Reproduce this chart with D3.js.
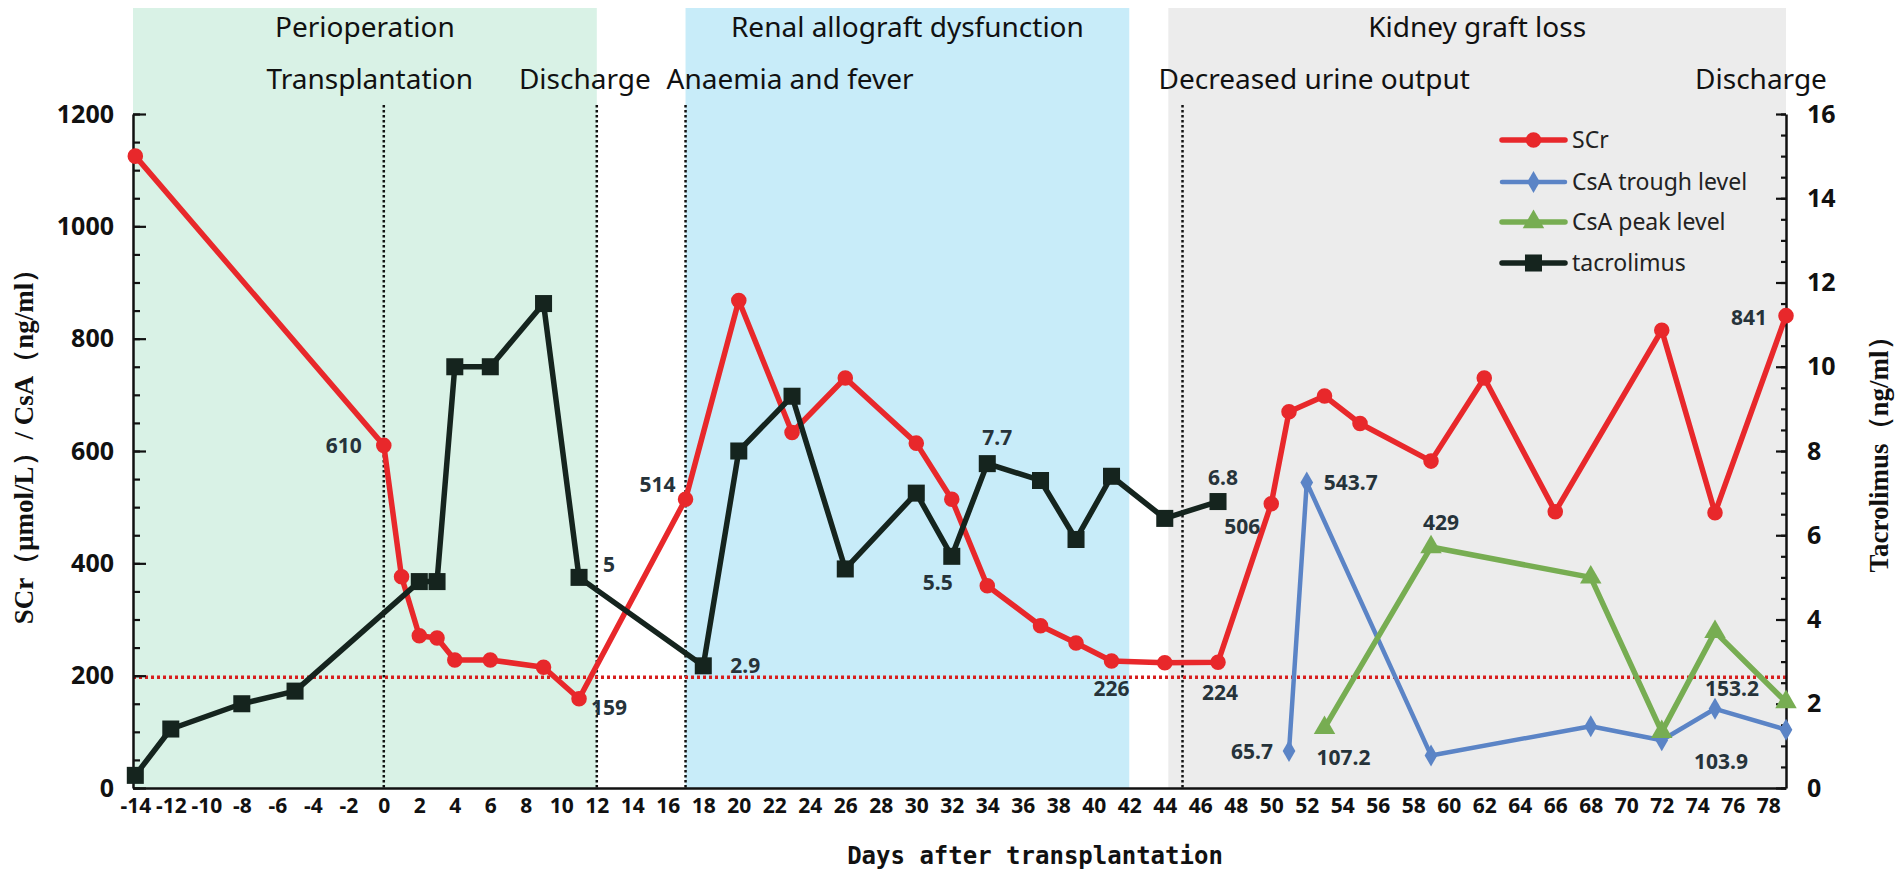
<!DOCTYPE html>
<html><head><meta charset="utf-8">
<script src="https://cdn.jsdelivr.net/npm/d3@7"></script>
<style>body{margin:0;background:#fff;} svg{display:block;}</style>
</head><body>
<svg id="chart" width="1902" height="880"></svg>
<script>
// ---------------- data ----------------
const scrDays   = [-14, 0, 1, 2, 3, 4, 6, 9, 11, 17, 20, 23, 26, 30, 32, 34, 37, 39, 41, 44, 47, 50, 51, 53, 55, 59, 62, 66, 72, 75, 79];
const scrValues = [1125, 610, 376, 271, 267, 228, 228, 215, 159, 514, 868, 633, 730, 614, 514, 360, 289, 258, 226, 223, 224, 506, 670, 698, 649, 582, 730, 492, 815, 490, 841];

const tacDays   = [-14, -12, -8, -5, 2, 3, 4, 6, 9, 11, 18, 20, 23, 26, 30, 32, 34, 37, 39, 41, 44, 47];
const tacValues = [0.3, 1.4, 2.0, 2.3, 4.9, 4.9, 10.0, 10.0, 11.5, 5.0, 2.9, 8.0, 9.3, 5.2, 7.0, 5.5, 7.7, 7.3, 5.9, 7.4, 6.4, 6.8];

const troughDays   = [51, 52, 59, 68, 72, 75, 79];
const troughValues = [65.7, 543.7, 58, 110, 85, 141, 103.9];

const peakDays   = [53, 59, 68, 72, 75, 79];
const peakValues = [107.2, 429, 375, 100, 278, 153.2];

const xTickValues     = d3.range(-14, 79, 2);
const leftTickValues  = [0, 200, 400, 600, 800, 1000, 1200];
const rightTickValues = [0, 2, 4, 6, 8, 10, 12, 14, 16];

const phaseNames  = ["Perioperation", "Renal allograft dysfunction", "Kidney graft loss"];
const phaseStarts = [-14.13, 17, 44.2];
const phaseEnds   = [12, 42, 79];

const eventNames = ["Transplantation", "Discharge", "Anaemia and fever", "Decreased urine output", "Discharge"];
const eventDays  = [0, 12, 17, 45, 79];
const dottedDays = [0, 12, 17, 45];

const scrUpperLimit = 197;

const seriesNames = ["SCr", "CsA trough level", "CsA peak level", "tacrolimus"];

// data labels: series index, point day, text
const labelSeries = ["scr","tac","scr","scr","tac","tac","tac","scr","tac","scr","scr","trough","peak","scr","peak","trough","trough","peak"];
const labelDays   = [0, 11, 11, 17, 18, 32, 34, 41, 47, 47, 50, 52, 59, 79, 79, 79, 51, 53];
const labelTexts  = ["610","5","159","514","2.9","5.5","7.7","226","6.8","224","506","543.7","429","841","153.2","103.9","65.7","107.2"];

// ---------------- layout / style ----------------
const W = 1902, H = 880;
const x  = d3.scaleLinear().domain([-14.13, 79]).range([133, 1786]);
const yL = d3.scaleLinear().domain([0, 1200]).range([788, 114]);
const yR = d3.scaleLinear().domain([0, 16]).range([788, 114]);

const bandColors = ["#d9f2e6", "#c8ecf9", "#ececec"];
const colors = {scr:"#e8282b", trough:"#5b84c6", peak:"#77ad52", tac:"#15241e"};

const labelStyle = [ // dx, dy, anchor
  [-22,0,"end"],[24,-13,"start"],[12,9,"start"],[-10,-15,"end"],[27,0,"start"],
  [-14,26,"middle"],[10,-26,"middle"],[0,27,"middle"],[5,-24,"middle"],[2,30,"middle"],
  [-11,23,"end"],[17,0,"start"],[10,-25,"middle"],[-19,2,"end"],[-27,-14,"end"],
  [-65,32,"middle"],[-16,0,"end"],[19,30,"middle"]
];
const eventStyle = [[-14,"middle"],[-12,"middle"],[-19,"start"],[-24,"start"],[-25,"middle"]];

const svg = d3.select("#chart");
const sansFont = "'Noto Sans', 'Open Sans', sans-serif";

// bands
const bandG = svg.append("g");
phaseNames.forEach((n, i) => {
  bandG.append("rect")
    .attr("x", x(phaseStarts[i])).attr("y", 8)
    .attr("width", x(phaseEnds[i]) - x(phaseStarts[i]))
    .attr("height", yL(0) - 8)
    .attr("fill", bandColors[i]);
  bandG.append("text")
    .attr("x", (x(phaseStarts[i]) + x(phaseEnds[i])) / 2).attr("y", 37)
    .attr("text-anchor", "middle")
    .style("font-family", sansFont).style("font-size", "28px").attr("fill", "#111")
    .text(n);
});

// event labels
eventNames.forEach((n, i) => {
  svg.append("text")
    .attr("x", x(eventDays[i]) + eventStyle[i][0]).attr("y", 89)
    .attr("text-anchor", eventStyle[i][1])
    .style("font-family", sansFont).style("font-size", "28px").attr("fill", "#111")
    .text(n);
});

// dotted vertical lines
dottedDays.forEach(d => {
  svg.append("line")
    .attr("x1", x(d)).attr("x2", x(d)).attr("y1", 105).attr("y2", yL(0))
    .attr("stroke", "#111").attr("stroke-width", 2.5).attr("stroke-dasharray", "2.5,2.5");
});

// SCr upper limit line
svg.append("line")
  .attr("x1", x.range()[0]).attr("x2", x.range()[1])
  .attr("y1", yL(scrUpperLimit)).attr("y2", yL(scrUpperLimit))
  .attr("stroke", "#d81e1e").attr("stroke-width", 3.5).attr("stroke-dasharray", "3,3");

// axes
const tickFont = (g, size) => g.selectAll("text")
  .style("font-family", sansFont).style("font-size", size).style("font-weight", "bold").attr("fill", "#111");

const leftAxis = svg.append("g").attr("transform", `translate(${x.range()[0]},0)`)
  .call(d3.axisLeft(yL).tickValues(leftTickValues).tickSize(-13).tickSizeOuter(0).tickPadding(19).tickFormat(d => d));
svg.append("g").attr("transform", `translate(${x.range()[0]},0)`)
  .call(d3.axisLeft(yL).tickValues(d3.range(0, 1201, 50)).tickSize(-7).tickSizeOuter(0).tickFormat(""))
  .select(".domain").remove();
tickFont(leftAxis, "25px");

const rightAxis = svg.append("g").attr("transform", `translate(${x.range()[1]},0)`)
  .call(d3.axisRight(yR).tickValues(rightTickValues).tickSize(-10).tickSizeOuter(0).tickPadding(21).tickFormat(d => d));
svg.append("g").attr("transform", `translate(${x.range()[1]},0)`)
  .call(d3.axisRight(yR).tickValues(d3.range(0, 16.01, 0.5)).tickSize(-5).tickSizeOuter(0).tickFormat(""))
  .select(".domain").remove();
tickFont(rightAxis, "25px");

const bottomAxis = svg.append("g").attr("transform", `translate(0,${yL(0)})`)
  .call(d3.axisBottom(x).tickValues(xTickValues).tickSize(0).tickSizeOuter(0).tickPadding(10).tickFormat(d => String(d)));
tickFont(bottomAxis, "21px");

svg.selectAll(".domain").attr("stroke", "#111").attr("stroke-width", 2.5);
svg.selectAll(".tick line").attr("stroke", "#111").attr("stroke-width", 2.2);

// axis titles
svg.append("text")
  .attr("transform", `translate(33,440) rotate(-90)`)
  .attr("text-anchor", "middle")
  .style("font-family", "'Liberation Serif', serif").style("font-weight", "bold").style("font-size", "27px")
  .attr("fill", "#111")
  .text("SCr（μmol/L）/ CsA（ng/ml）");
svg.append("text")
  .attr("transform", `translate(1888,448) rotate(-90)`)
  .attr("text-anchor", "middle")
  .style("font-family", "'Liberation Serif', serif").style("font-weight", "bold").style("font-size", "27px")
  .attr("fill", "#111")
  .text("Tacrolimus（ng/ml）");
svg.append("text")
  .attr("x", 1035).attr("y", 864)
  .attr("text-anchor", "middle")
  .style("font-family", "'DejaVu Sans Mono', monospace").style("font-weight", "bold").style("font-size", "24px")
  .attr("fill", "#111")
  .text("Days after transplantation");

// series
const series = {
  scr:    {days: scrDays, vals: scrValues, y: yL, sym: d3.symbolCircle, size: 190, w: 5.5},
  trough: {days: troughDays, vals: troughValues, y: yL, sym: d3.symbolDiamond, size: 140, w: 4.5},
  peak:   {days: peakDays, vals: peakValues, y: yL, sym: d3.symbolTriangle, size: 200, w: 5.5},
  tac:    {days: tacDays, vals: tacValues, y: yR, sym: d3.symbolSquare, size: 290, w: 5.5}
};
const order = ["scr", "trough", "peak", "tac"];
order.forEach(k => {
  const s = series[k];
  const pts = s.days.map((d, i) => [x(d), s.y(s.vals[i])]);
  svg.append("path")
    .attr("d", d3.line()(pts))
    .attr("fill", "none").attr("stroke", colors[k]).attr("stroke-width", s.w)
    .attr("stroke-linejoin", "round");
  svg.append("g").selectAll("path").data(pts).join("path")
    .attr("transform", p => `translate(${p[0]},${p[1]})`)
    .attr("d", d3.symbol().type(s.sym).size(s.size))
    .attr("fill", colors[k]);
});

// data labels
labelTexts.forEach((t, i) => {
  const s = series[labelSeries[i]];
  const idx = s.days.indexOf(labelDays[i]);
  const px = x(s.days[idx]), py = s.y(s.vals[idx]);
  svg.append("text")
    .attr("x", px + labelStyle[i][0]).attr("y", py + labelStyle[i][1])
    .attr("dy", "0.36em")
    .attr("text-anchor", labelStyle[i][2])
    .style("font-family", sansFont).style("font-size", "21px").style("font-weight", "bold")
    .attr("fill", "#26333a")
    .text(t);
});

// legend
const legendKeys = ["scr", "trough", "peak", "tac"];
const legendY = [140, 182, 222, 263];
legendKeys.forEach((k, i) => {
  const g = svg.append("g").attr("transform", `translate(1502,${legendY[i]})`);
  g.append("line").attr("x1", 0).attr("x2", 63).attr("y1", 0).attr("y2", 0)
    .attr("stroke", colors[k]).attr("stroke-width", series[k].w).attr("stroke-linecap", "round");
  g.append("path").attr("transform", "translate(31.5,0)")
    .attr("d", d3.symbol().type(series[k].sym).size(series[k].size)).attr("fill", colors[k]);
  g.append("text").attr("x", 70).attr("y", 0).attr("dy", "0.36em")
    .style("font-family", sansFont).style("font-size", "23px").attr("fill", "#222")
    .text(seriesNames[i]);
});
</script>
</body></html>
